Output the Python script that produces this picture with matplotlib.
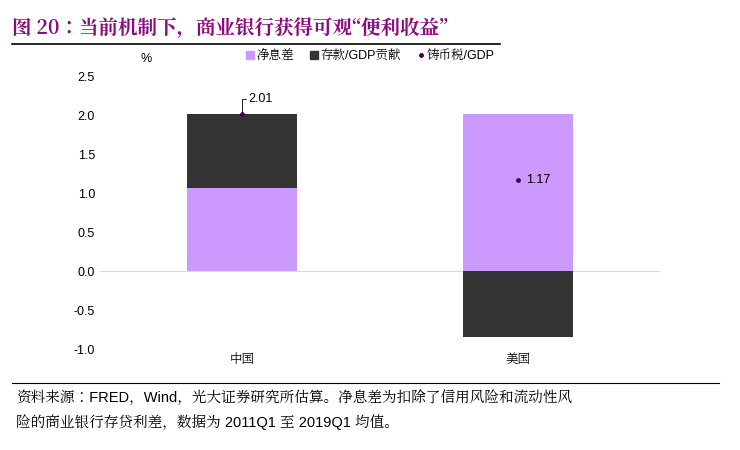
import matplotlib
matplotlib.use("Agg")
import matplotlib.pyplot as plt
from matplotlib.lines import Line2D
from matplotlib import font_manager as fm

cjk = None
for f in fm.fontManager.ttflist:
    if "CJK" in f.name and ("SC" in f.name or cjk is None):
        cjk = f.name
if cjk is None:
    cjk = "Noto Sans CJK SC"
plt.rcParams['font.family'] = ['Liberation Sans', cjk]

categories = ["中国", "美国"]
nim = [1.07, 2.01]
deposit = [0.94, -0.84]
seigniorage = [2.01, 1.17]
yticks = [2.5, 2.0, 1.5, 1.0, 0.5, 0.0, -0.5, -1.0]

fig = plt.figure(figsize=(7.4, 4.5), dpi=100)
ax = fig.add_axes([0.135, 0.224, 0.757, 0.607])
x = [0, 1]
purple = "#CC99FF"
dark = "#333333"
ax.bar(x, nim, width=0.4, color=purple)
bottoms = [n if d > 0 else 0 for n, d in zip(nim, deposit)]
ax.bar(x, deposit, width=0.4, bottom=bottoms, color=dark)
ax.scatter(x, seigniorage, s=6, color="#4B0040", zorder=5)
ax.annotate(f"{seigniorage[0]:.2f}", xy=(x[0], seigniorage[0]), xytext=(x[0]+0.025, seigniorage[0]+0.2),
            fontsize=9, va="center",
            arrowprops=dict(arrowstyle="-", color="black", lw=0.6, shrinkA=0, shrinkB=1,
                            connectionstyle="angle,angleA=0,angleB=90,rad=0"))
ax.text(x[1]+0.03, seigniorage[1], f"{seigniorage[1]:.2f}", fontsize=9, va="center")

ax.set_xlim(-0.514, 1.514)
ax.set_ylim(-1.0, 2.5)
ax.set_yticks(yticks)
ax.set_yticklabels([f"{v:.1f}" for v in yticks], fontsize=9)
ax.set_xticks(x)
ax.set_xticklabels(categories, fontsize=9)
ax.tick_params(length=0)
for s in ax.spines.values():
    s.set_visible(False)
ax.axhline(0, color="#D9D9D9", lw=0.8, zorder=0)
fig.text(0.197, 0.862, "%", fontsize=9, ha="center")

handles = [Line2D([], [], marker='s', color=purple, ls='', markersize=6),
           Line2D([], [], marker='s', color=dark, ls='', markersize=6),
           Line2D([], [], marker='o', color="#4B0040", ls='', markersize=2.5)]
fig.legend(handles, ["净息差", "存款/GDP贡献", "铸币税/GDP"], loc="center", bbox_to_anchor=(0.5, 0.875),
           ncol=3, frameon=False, fontsize=9, handletextpad=0.1, columnspacing=1.2, handlelength=0.8)

fig.text(0.016, 0.935, "图 20：当前机制下，商业银行获得可观“便利收益”", fontsize=14, fontweight="bold",
         color="#8B0A7D", va="center", family=[cjk])
fig.add_artist(Line2D([0.016, 0.675], [0.902, 0.902], color="black", lw=1.2))
fig.add_artist(Line2D([0.016, 0.972], [0.149, 0.149], color="black", lw=0.8))
fig.text(0.022, 0.118, "资料来源：FRED，Wind，光大证券研究所估算。净息差为扣除了信用风险和流动性风", fontsize=10.5, va="center")
fig.text(0.022, 0.062, "险的商业银行存贷利差，数据为 2011Q1 至 2019Q1 均值。", fontsize=10.5, va="center")
fig.savefig("out.png", dpi=100)
